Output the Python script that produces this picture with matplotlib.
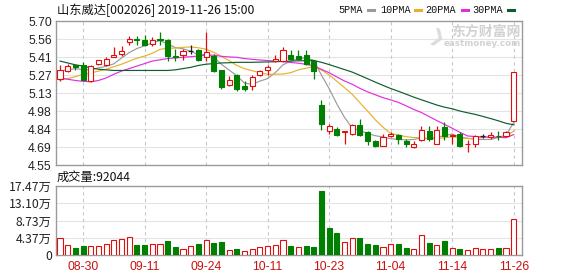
import matplotlib
matplotlib.use("Agg")
import matplotlib.pyplot as plt
from matplotlib.lines import Line2D
import numpy as np

plt.rcParams['font.family'] = ['Noto Sans CJK SC', 'DejaVu Sans']

# ---------------- data ----------------
stock_title = "山东威达[002026] 2019-11-26 15:00"
volume_label = "成交量:92044"
ma_names = ["5PMA", "10PMA", "20PMA", "30PMA"]

date_labels = ["08-30", "09-11", "09-24", "10-11", "10-23", "11-04", "11-14", "11-26"]
date_label_idx = [3, 11, 19, 27, 35, 43, 51, 59]

price_tick_labels = ["4.55", "4.69", "4.84", "4.98", "5.13", "5.27", "5.41", "5.56", "5.70"]
vol_tick_labels = ["0", "4.37万", "8.73万", "13.10万", "17.47万"]

opens = [5.24, 5.30, 5.35, 5.35, 5.22, 5.36, 5.35, 5.415, 5.44, 5.53,
         5.56, 5.55, 5.52, 5.56, 5.55, 5.42, 5.43, 5.46, 5.47, 5.41,
         5.42, 5.31, 5.19, 5.27, 5.18, 5.18, 5.27, 5.31, 5.38, 5.38,
         5.43, 5.42, 5.43, 5.38, 5.03, 4.82, 4.84, 4.81, 4.80, 4.87,
         4.81, 4.74, 4.70, 4.78, 4.79, 4.74, 4.69, 4.75, 4.82, 4.72,
         4.85, 4.78, 4.80, 4.715, 4.715, 4.78, 4.775, 4.785, 4.78, 4.90]
highs = [5.35, 5.36, 5.35, 5.37, 5.35, 5.39, 5.41, 5.49, 5.50, 5.58,
         5.58, 5.59, 5.57, 5.61, 5.56, 5.48, 5.48, 5.51, 5.48, 5.61,
         5.44, 5.31, 5.26, 5.28, 5.22, 5.27, 5.31, 5.35, 5.43, 5.49,
         5.47, 5.47, 5.47, 5.39, 5.07, 4.875, 4.855, 4.82, 4.875, 4.92,
         4.82, 4.75, 4.80, 4.81, 4.80, 4.755, 4.74, 4.86, 4.86, 4.86,
         4.89, 4.795, 4.81, 4.75, 4.79, 4.795, 4.81, 4.82, 4.82, 5.29]
lows = [5.22, 5.29, 5.31, 5.23, 5.21, 5.35, 5.34, 5.41, 5.42, 5.51,
        5.51, 5.50, 5.50, 5.51, 5.38, 5.38, 5.39, 5.44, 5.38, 5.38,
        5.29, 5.16, 5.18, 5.14, 5.14, 5.15, 5.26, 5.27, 5.37, 5.37,
        5.39, 5.39, 5.35, 5.24, 4.83, 4.80, 4.78, 4.72, 4.79, 4.78,
        4.71, 4.69, 4.70, 4.77, 4.72, 4.69, 4.685, 4.74, 4.74, 4.715,
        4.75, 4.715, 4.69, 4.655, 4.69, 4.765, 4.755, 4.75, 4.775, 4.90]
closes = [5.31, 5.34, 5.33, 5.23, 5.34, 5.39, 5.40, 5.43, 5.46, 5.56,
          5.55, 5.51, 5.55, 5.55, 5.42, 5.41, 5.46, 5.46, 5.39, 5.45,
          5.30, 5.17, 5.23, 5.16, 5.16, 5.25, 5.30, 5.33, 5.40, 5.47,
          5.40, 5.40, 5.36, 5.30, 4.88, 4.86, 4.79, 4.82, 4.87, 4.79,
          4.74, 4.70, 4.77, 4.80, 4.76, 4.72, 4.72, 4.83, 4.76, 4.83,
          4.78, 4.79, 4.70, 4.72, 4.78, 4.78, 4.79, 4.78, 4.81, 5.29]

# volume in units of 万 (10k shares)
volumes = [4.22, 2.53, 1.86, 2.28, 2.28, 2.28, 2.70, 3.80, 4.05, 4.64,
           2.53, 2.53, 2.70, 2.70, 3.54, 2.03, 1.43, 2.28, 2.70, 3.80,
           2.95, 3.29, 1.27, 1.52, 1.01, 1.52, 1.94, 2.28, 2.53, 3.80,
           2.28, 1.94, 2.28, 2.11, 16.29, 6.92, 5.65, 3.38, 4.22, 4.39,
           2.78, 2.53, 1.94, 2.78, 2.78, 1.86, 1.43, 5.06, 3.12, 2.53,
           3.63, 1.69, 1.52, 1.27, 1.69, 1.43, 1.43, 1.77, 1.77, 9.2044]

ma5 = [5.30, 5.31, 5.32, 5.31, 5.31, 5.326, 5.338, 5.358, 5.404, 5.448,
       5.48, 5.502, 5.526, 5.544, 5.516, 5.488, 5.478, 5.46, 5.428, 5.434,
       5.412, 5.354, 5.308, 5.262, 5.204, 5.194, 5.22, 5.24, 5.288, 5.35,
       5.38, 5.40, 5.406, 5.386, 5.268, 5.16, 5.038, 4.93, 4.844, 4.826,
       4.802, 4.784, 4.774, 4.76, 4.754, 4.75, 4.754, 4.766, 4.758, 4.772,
       4.784, 4.798, 4.772, 4.764, 4.754, 4.754, 4.754, 4.77, 4.788, 4.89]
ma10 = [5.23, 5.24, 5.255, 5.275, 5.285, 5.30, 5.315, 5.335, 5.355, 5.379,
        5.403, 5.42, 5.442, 5.474, 5.482, 5.484, 5.49, 5.493, 5.486, 5.475,
        5.45, 5.416, 5.384, 5.345, 5.319, 5.303, 5.287, 5.274, 5.275, 5.277,
        5.287, 5.31, 5.323, 5.337, 5.309, 5.27, 5.219, 5.168, 5.115, 5.047,
        4.981, 4.911, 4.852, 4.802, 4.79, 4.776, 4.769, 4.77, 4.759, 4.763,
        4.767, 4.776, 4.769, 4.761, 4.763, 4.769, 4.776, 4.771, 4.776, 4.822]
ma20 = [5.245, 5.235, 5.225, 5.218, 5.215, 5.225, 5.245, 5.275, 5.30, 5.32,
        5.34, 5.36, 5.38, 5.39, 5.40, 5.405, 5.41, 5.415, 5.42, 5.427,
        5.427, 5.418, 5.413, 5.41, 5.40, 5.394, 5.389, 5.384, 5.38, 5.376,
        5.369, 5.363, 5.354, 5.341, 5.314, 5.287, 5.253, 5.221, 5.195, 5.162,
        5.134, 5.111, 5.088, 5.07, 5.05, 5.023, 4.994, 4.969, 4.937, 4.905,
        4.874, 4.844, 4.811, 4.782, 4.777, 4.773, 4.773, 4.771, 4.768, 4.793]
ma30 = [5.38, 5.365, 5.35, 5.34, 5.325, 5.315, 5.31, 5.305, 5.305, 5.305,
        5.305, 5.305, 5.305, 5.305, 5.305, 5.31, 5.32, 5.33, 5.345, 5.355,
        5.36, 5.365, 5.367, 5.37, 5.37, 5.37, 5.372, 5.373, 5.375, 5.377,
        5.38, 5.382, 5.383, 5.385, 5.37, 5.352, 5.332, 5.312, 5.292, 5.266,
        5.239, 5.212, 5.186, 5.161, 5.139, 5.116, 5.092, 5.071, 5.05, 5.029,
        5.012, 4.999, 4.981, 4.967, 4.954, 4.938, 4.921, 4.903, 4.883, 4.871]

# ---------------- style ----------------
RED = '#e00f0f'
GREEN = '#008000'
BLACK = '#222222'
MA_COLORS = ['#9a9a9a', '#e8b02a', '#e02ee0', '#0f5c2e']
SPINE = '#9a9a9a'
GRID = '#e4e4e4'
VGRID = '#c8c8c8'
LABEL = '#222222'
XLABEL = '#cc1010'
FS = 8.8

W, H = 578, 276
fig = plt.figure(figsize=(W / 100, H / 100), dpi=100)

def fx(px):
    return px / W

def fy(py):
    return 1 - py / H

L, R = 56, 522
ax = fig.add_axes([fx(L), fy(165), fx(R - L), (165 - 21) / H])
axv = fig.add_axes([fx(L), fy(255), fx(R - L), (255 - 186) / H])

n = len(closes)
x = np.arange(n)
o = np.array(opens); c = np.array(closes); hi = np.array(highs); lo = np.array(lows)
v = np.array(volumes)
bw = 0.66

# ---------- price panel ----------
for i in range(n):
    if c[i] > o[i]:
        col, face = RED, 'white'
    elif c[i] < o[i]:
        col, face = GREEN, GREEN
    else:
        col, face = BLACK, None
    ax.vlines(x[i], lo[i], hi[i], color=col, linewidth=0.9, zorder=3)
    if face is None:
        ax.hlines(c[i], x[i] - bw / 2, x[i] + bw / 2, color=col, linewidth=0.9, zorder=4)
    else:
        bot = min(o[i], c[i]); h = abs(c[i] - o[i])
        ax.bar(x[i], h, bottom=bot, width=bw, facecolor=face, edgecolor=col,
               linewidth=0.8, zorder=4)

for ma, colr in zip([ma5, ma10, ma20, ma30], MA_COLORS):
    ax.plot(x, ma, color=colr, linewidth=0.85, zorder=2)

ax.set_xlim(-0.52, n + 0.08)
ax.set_ylim(4.55, 5.70)
pt = np.linspace(4.55, 5.70, len(price_tick_labels))
ax.set_yticks(pt)
ax.set_yticklabels(price_tick_labels, fontsize=FS, color=LABEL,
                   family=['Liberation Sans', 'DejaVu Sans'])
ax.set_xticks([])
ax.tick_params(axis='y', length=0, pad=3)
for y in pt[1:-1]:
    ax.axhline(y, color=GRID, linewidth=0.8, zorder=0)

# watermark
ax.text(0.997, 0.925, "东方财富网", transform=ax.transAxes, ha='right', va='center',
        fontsize=10, color='#d2d2d2', fontweight='bold', zorder=1)
ax.text(0.997, 0.847, "eastmoney.com", transform=ax.transAxes, ha='right', va='center',
        fontsize=6.3, color='#d2d2d2', fontweight='bold', zorder=1,
        family=['DejaVu Sans'])
ax.text(0.817, 0.88, "❯", transform=ax.transAxes, ha='center', va='center',
        fontsize=13, color='#dcdcdc', zorder=1, family=['DejaVu Sans'], rotation=-20)

# ---------- volume panel ----------
prev = np.concatenate([[o[0]], c[:-1]])
for i in range(n):
    up = c[i] >= prev[i]
    if up:
        axv.bar(x[i], v[i], width=bw, facecolor='white', edgecolor=RED, linewidth=0.8, zorder=3)
    else:
        axv.bar(x[i], v[i], width=bw, facecolor=GREEN, edgecolor=GREEN, linewidth=0.8, zorder=3)

axv.set_xlim(-0.52, n + 0.08)
axv.set_ylim(0, 17.47)
vt = np.linspace(0, 17.47, len(vol_tick_labels))
axv.set_yticks(vt)
axv.set_yticklabels(vol_tick_labels, fontsize=FS, color=LABEL)
axv.tick_params(axis='y', length=0, pad=3)
for y in vt[1:-1]:
    axv.axhline(y, color=GRID, linewidth=0.8, zorder=0)
axv.set_xticks(date_label_idx)
axv.set_xticklabels(date_labels, fontsize=FS, color=XLABEL,
                    family=['Liberation Sans', 'DejaVu Sans'])
axv.tick_params(axis='x', length=0, pad=4)

for a in (ax, axv):
    for idx in date_label_idx:
        a.axvline(idx, color=VGRID, linewidth=0.8, linestyle=(0, (3, 3)), zorder=0)
    for s in a.spines.values():
        s.set_color(SPINE)
        s.set_linewidth(1.0)

# ---------- header texts ----------
fig.text(fx(57), fy(10), stock_title, fontsize=FS, color='#111111', va='center', ha='left')
fig.text(fx(57), fy(177), volume_label, fontsize=FS, color='#111111', va='center', ha='left')

legend_x = [338, 380, 425, 472]
dash_x = [368, 415, 462, 508]
for name, lx, dx, colr in zip(ma_names, legend_x, dash_x, MA_COLORS):
    fig.text(fx(lx), fy(10), name, fontsize=7.3, color='#111111', va='center', ha='left',
             family=['Liberation Mono', 'DejaVu Sans Mono'])
    fig.add_artist(Line2D([fx(dx), fx(dx + 6)], [fy(10), fy(10)], color=colr,
                          linewidth=2.2, transform=fig.transFigure))

fig.savefig("out.png", dpi=100, facecolor='white')
